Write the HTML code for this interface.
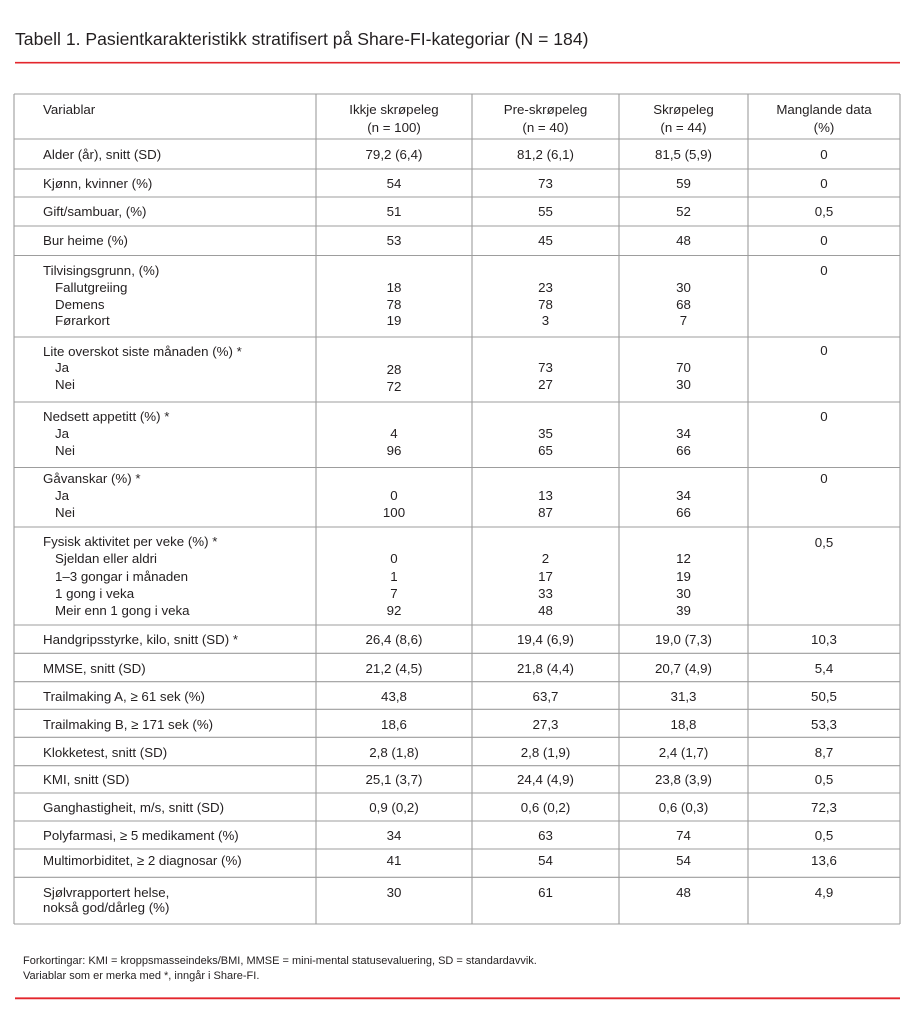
<!DOCTYPE html>
<html>
<head>
<meta charset="utf-8">
<style>
html,body{margin:0;padding:0;background:#fff;}
body{width:915px;height:1024px;position:relative;overflow:hidden;font-family:"Liberation Sans",Arial,sans-serif;color:#231f20;}
.t{position:absolute;font-size:13.3px;line-height:16px;white-space:nowrap;}
.c{position:absolute;font-size:13.3px;line-height:16px;white-space:nowrap;transform:translateX(-50%);text-align:center;}
.title{position:absolute;left:15px;top:29px;font-size:17.6px;line-height:20px;white-space:nowrap;}
.fn{position:absolute;left:23px;font-size:11px;line-height:14px;white-space:nowrap;}
svg{position:absolute;left:0;top:0;}
</style>
</head>
<body>
<svg width="915" height="1024" viewBox="0 0 915 1024">
  <line x1="15" y1="62.7" x2="900" y2="62.7" stroke="#e3262c" stroke-width="1.6"/>
  <line x1="15" y1="998.3" x2="900" y2="998.3" stroke="#e3262c" stroke-width="1.8"/>
  <g stroke="#9d9d9d" stroke-width="1.1">
    <line x1="14" y1="94" x2="900" y2="94"/>
    <line x1="14" y1="139" x2="900" y2="139"/>
    <line x1="14" y1="169" x2="900" y2="169"/>
    <line x1="14" y1="197" x2="900" y2="197"/>
    <line x1="14" y1="226" x2="900" y2="226"/>
    <line x1="14" y1="255.5" x2="900" y2="255.5"/>
    <line x1="14" y1="337" x2="900" y2="337"/>
    <line x1="14" y1="402" x2="900" y2="402"/>
    <line x1="14" y1="467.5" x2="900" y2="467.5"/>
    <line x1="14" y1="527" x2="900" y2="527"/>
    <line x1="14" y1="625" x2="900" y2="625"/>
    <line x1="14" y1="653.3" x2="900" y2="653.3"/>
    <line x1="14" y1="681.7" x2="900" y2="681.7"/>
    <line x1="14" y1="709.3" x2="900" y2="709.3"/>
    <line x1="14" y1="737.3" x2="900" y2="737.3"/>
    <line x1="14" y1="765.7" x2="900" y2="765.7"/>
    <line x1="14" y1="793" x2="900" y2="793"/>
    <line x1="14" y1="821" x2="900" y2="821"/>
    <line x1="14" y1="849" x2="900" y2="849"/>
    <line x1="14" y1="877.3" x2="900" y2="877.3"/>
    <line x1="14" y1="924" x2="900" y2="924"/>
    <line x1="14" y1="94" x2="14" y2="924"/>
    <line x1="316" y1="94" x2="316" y2="924"/>
    <line x1="472" y1="94" x2="472" y2="924"/>
    <line x1="619" y1="94" x2="619" y2="924"/>
    <line x1="748" y1="94" x2="748" y2="924"/>
    <line x1="900" y1="94" x2="900" y2="924"/>
  </g>
</svg>

<div class="title">Tabell 1. Pasientkarakteristikk stratifisert på Share-FI-kategoriar (N = 184)</div>

<!-- Header -->
<div class="t" style="left:43px;top:101.5px">Variablar</div>
<div class="c" style="left:394px;top:102px">Ikkje skrøpeleg</div>
<div class="c" style="left:394px;top:120px">(n = 100)</div>
<div class="c" style="left:545.5px;top:102px">Pre-skrøpeleg</div>
<div class="c" style="left:545.5px;top:120px">(n = 40)</div>
<div class="c" style="left:683.5px;top:102px">Skrøpeleg</div>
<div class="c" style="left:683.5px;top:120px">(n = 44)</div>
<div class="c" style="left:824px;top:102px">Manglande data</div>
<div class="c" style="left:824px;top:120px">(%)</div>

<!-- Alder -->
<div class="t" style="left:43px;top:147px">Alder (år), snitt (SD)</div>
<div class="c" style="left:394px;top:147px">79,2 (6,4)</div>
<div class="c" style="left:545.5px;top:147px">81,2 (6,1)</div>
<div class="c" style="left:683.5px;top:147px">81,5 (5,9)</div>
<div class="c" style="left:824px;top:147px">0</div>

<!-- Kjønn -->
<div class="t" style="left:43px;top:176px">Kjønn, kvinner (%)</div>
<div class="c" style="left:394px;top:176px">54</div>
<div class="c" style="left:545.5px;top:176px">73</div>
<div class="c" style="left:683.5px;top:176px">59</div>
<div class="c" style="left:824px;top:176px">0</div>

<!-- Gift -->
<div class="t" style="left:43px;top:204px">Gift/sambuar, (%)</div>
<div class="c" style="left:394px;top:204px">51</div>
<div class="c" style="left:545.5px;top:204px">55</div>
<div class="c" style="left:683.5px;top:204px">52</div>
<div class="c" style="left:824px;top:204px">0,5</div>

<!-- Bur heime -->
<div class="t" style="left:43px;top:232.5px">Bur heime (%)</div>
<div class="c" style="left:394px;top:232.5px">53</div>
<div class="c" style="left:545.5px;top:232.5px">45</div>
<div class="c" style="left:683.5px;top:232.5px">48</div>
<div class="c" style="left:824px;top:232.5px">0</div>

<!-- Tilvisingsgrunn -->
<div class="t" style="left:43px;top:263px">Tilvisingsgrunn, (%)</div>
<div class="t" style="left:55px;top:280px">Fallutgreiing</div>
<div class="t" style="left:55px;top:296.5px">Demens</div>
<div class="t" style="left:55px;top:313px">Førarkort</div>
<div class="c" style="left:394px;top:280px">18</div>
<div class="c" style="left:394px;top:296.5px">78</div>
<div class="c" style="left:394px;top:313px">19</div>
<div class="c" style="left:545.5px;top:280px">23</div>
<div class="c" style="left:545.5px;top:296.5px">78</div>
<div class="c" style="left:545.5px;top:313px">3</div>
<div class="c" style="left:683.5px;top:280px">30</div>
<div class="c" style="left:683.5px;top:296.5px">68</div>
<div class="c" style="left:683.5px;top:313px">7</div>
<div class="c" style="left:824px;top:263px">0</div>

<!-- Lite overskot -->
<div class="t" style="left:43px;top:343.5px">Lite overskot siste månaden (%) *</div>
<div class="t" style="left:55px;top:360px">Ja</div>
<div class="t" style="left:55px;top:377px">Nei</div>
<div class="c" style="left:394px;top:361.5px">28</div>
<div class="c" style="left:394px;top:378.5px">72</div>
<div class="c" style="left:545.5px;top:360px">73</div>
<div class="c" style="left:545.5px;top:377px">27</div>
<div class="c" style="left:683.5px;top:360px">70</div>
<div class="c" style="left:683.5px;top:377px">30</div>
<div class="c" style="left:824px;top:343px">0</div>

<!-- Nedsett appetitt -->
<div class="t" style="left:43px;top:408.5px">Nedsett appetitt (%) *</div>
<div class="t" style="left:55px;top:425.5px">Ja</div>
<div class="t" style="left:55px;top:442.5px">Nei</div>
<div class="c" style="left:394px;top:425.5px">4</div>
<div class="c" style="left:394px;top:442.5px">96</div>
<div class="c" style="left:545.5px;top:425.5px">35</div>
<div class="c" style="left:545.5px;top:442.5px">65</div>
<div class="c" style="left:683.5px;top:425.5px">34</div>
<div class="c" style="left:683.5px;top:442.5px">66</div>
<div class="c" style="left:824px;top:408.5px">0</div>

<!-- Gåvanskar -->
<div class="t" style="left:43px;top:470.5px">Gåvanskar (%) *</div>
<div class="t" style="left:55px;top:488px">Ja</div>
<div class="t" style="left:55px;top:504.5px">Nei</div>
<div class="c" style="left:394px;top:488px">0</div>
<div class="c" style="left:394px;top:504.5px">100</div>
<div class="c" style="left:545.5px;top:488px">13</div>
<div class="c" style="left:545.5px;top:504.5px">87</div>
<div class="c" style="left:683.5px;top:488px">34</div>
<div class="c" style="left:683.5px;top:504.5px">66</div>
<div class="c" style="left:824px;top:470.5px">0</div>

<!-- Fysisk aktivitet -->
<div class="t" style="left:43px;top:533.5px">Fysisk aktivitet per veke (%) *</div>
<div class="t" style="left:55px;top:551px">Sjeldan eller aldri</div>
<div class="t" style="left:55px;top:568.5px">1–3 gongar i månaden</div>
<div class="t" style="left:55px;top:585.5px">1 gong i veka</div>
<div class="t" style="left:55px;top:603px">Meir enn 1 gong i veka</div>
<div class="c" style="left:394px;top:551px">0</div>
<div class="c" style="left:394px;top:568.5px">1</div>
<div class="c" style="left:394px;top:585.5px">7</div>
<div class="c" style="left:394px;top:603px">92</div>
<div class="c" style="left:545.5px;top:551px">2</div>
<div class="c" style="left:545.5px;top:568.5px">17</div>
<div class="c" style="left:545.5px;top:585.5px">33</div>
<div class="c" style="left:545.5px;top:603px">48</div>
<div class="c" style="left:683.5px;top:551px">12</div>
<div class="c" style="left:683.5px;top:568.5px">19</div>
<div class="c" style="left:683.5px;top:585.5px">30</div>
<div class="c" style="left:683.5px;top:603px">39</div>
<div class="c" style="left:824px;top:534.5px">0,5</div>

<!-- Single rows -->
<div class="t" style="left:43px;top:632px">Handgripsstyrke, kilo, snitt (SD) *</div>
<div class="c" style="left:394px;top:632px">26,4 (8,6)</div>
<div class="c" style="left:545.5px;top:632px">19,4 (6,9)</div>
<div class="c" style="left:683.5px;top:632px">19,0 (7,3)</div>
<div class="c" style="left:824px;top:632px">10,3</div>

<div class="t" style="left:43px;top:660.5px">MMSE, snitt (SD)</div>
<div class="c" style="left:394px;top:660.5px">21,2 (4,5)</div>
<div class="c" style="left:545.5px;top:660.5px">21,8 (4,4)</div>
<div class="c" style="left:683.5px;top:660.5px">20,7 (4,9)</div>
<div class="c" style="left:824px;top:660.5px">5,4</div>

<div class="t" style="left:43px;top:688.5px">Trailmaking A, ≥ 61 sek (%)</div>
<div class="c" style="left:394px;top:688.5px">43,8</div>
<div class="c" style="left:545.5px;top:688.5px">63,7</div>
<div class="c" style="left:683.5px;top:688.5px">31,3</div>
<div class="c" style="left:824px;top:688.5px">50,5</div>

<div class="t" style="left:43px;top:716.5px">Trailmaking B, ≥ 171 sek (%)</div>
<div class="c" style="left:394px;top:716.5px">18,6</div>
<div class="c" style="left:545.5px;top:716.5px">27,3</div>
<div class="c" style="left:683.5px;top:716.5px">18,8</div>
<div class="c" style="left:824px;top:716.5px">53,3</div>

<div class="t" style="left:43px;top:744.5px">Klokketest, snitt (SD)</div>
<div class="c" style="left:394px;top:744.5px">2,8 (1,8)</div>
<div class="c" style="left:545.5px;top:744.5px">2,8 (1,9)</div>
<div class="c" style="left:683.5px;top:744.5px">2,4 (1,7)</div>
<div class="c" style="left:824px;top:744.5px">8,7</div>

<div class="t" style="left:43px;top:772px">KMI, snitt (SD)</div>
<div class="c" style="left:394px;top:772px">25,1 (3,7)</div>
<div class="c" style="left:545.5px;top:772px">24,4 (4,9)</div>
<div class="c" style="left:683.5px;top:772px">23,8 (3,9)</div>
<div class="c" style="left:824px;top:772px">0,5</div>

<div class="t" style="left:43px;top:799.5px">Ganghastigheit, m/s, snitt (SD)</div>
<div class="c" style="left:394px;top:799.5px">0,9 (0,2)</div>
<div class="c" style="left:545.5px;top:799.5px">0,6 (0,2)</div>
<div class="c" style="left:683.5px;top:799.5px">0,6 (0,3)</div>
<div class="c" style="left:824px;top:799.5px">72,3</div>

<div class="t" style="left:43px;top:827.5px">Polyfarmasi, ≥ 5 medikament (%)</div>
<div class="c" style="left:394px;top:827.5px">34</div>
<div class="c" style="left:545.5px;top:827.5px">63</div>
<div class="c" style="left:683.5px;top:827.5px">74</div>
<div class="c" style="left:824px;top:827.5px">0,5</div>

<div class="t" style="left:43px;top:852.5px">Multimorbiditet, ≥ 2 diagnosar (%)</div>
<div class="c" style="left:394px;top:852.5px">41</div>
<div class="c" style="left:545.5px;top:852.5px">54</div>
<div class="c" style="left:683.5px;top:852.5px">54</div>
<div class="c" style="left:824px;top:852.5px">13,6</div>

<div class="t" style="left:43px;top:884.5px">Sjølvrapportert helse,</div>
<div class="t" style="left:43px;top:899.5px">nokså god/dårleg (%)</div>
<div class="c" style="left:394px;top:884.5px">30</div>
<div class="c" style="left:545.5px;top:884.5px">61</div>
<div class="c" style="left:683.5px;top:884.5px">48</div>
<div class="c" style="left:824px;top:884.5px">4,9</div>

<!-- Footnote -->
<div class="fn" style="top:953.5px">Forkortingar: KMI = kroppsmasseindeks/BMI, MMSE = mini-mental statusevaluering, SD = standardavvik.</div>
<div class="fn" style="top:968.5px">Variablar som er merka med *, inngår i Share-FI.</div>
</body>
</html>
